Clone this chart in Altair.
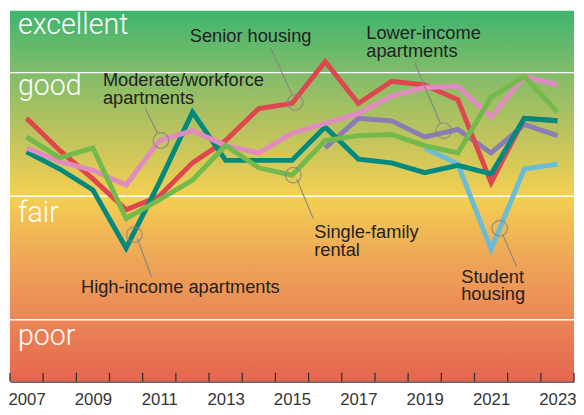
import altair as alt
import pandas as pd

# ---------------- data (rating scale: poor 0-1, fair 1-2, good 2-3, excellent 3-4) ----
years = list(range(2007, 2024))

senior_housing = [2.63, 2.37, 2.14, 1.89, 2.00, 2.27, 2.45, 2.71, 2.75, 3.09, 2.75, 2.93, 2.90, 2.78, 2.11, 2.63, 2.61]
high_income = [2.36, 2.22, 2.05, 1.58, 2.11, 2.68, 2.29, 2.29, 2.29, 2.56, 2.30, 2.27, 2.19, 2.25, 2.18, 2.63, 2.61]
single_family = [2.48, 2.31, 2.39, 1.82, 1.97, 2.13, 2.41, 2.23, 2.17, 2.45, 2.49, 2.50, 2.41, 2.35, 2.80, 2.97, 2.68]
moderate_workforce = [2.39, 2.28, 2.21, 2.09, 2.45, 2.53, 2.41, 2.35, 2.51, 2.59, 2.67, 2.81, 2.88, 2.89, 2.64, 2.97, 2.90]
lower_income = [None] * 9 + [2.39, 2.63, 2.61, 2.48, 2.54, 2.35, 2.58, 2.49]
student_housing = [None] * 12 + [2.39, 2.26, 1.57, 2.22, 2.26]

series_names = ["Student housing", "Lower-income apartments", "Senior housing",
                "High-income apartments", "Moderate/workforce apartments", "Single-family rental"]
series_values = [student_housing, lower_income, senior_housing,
                 high_income, moderate_workforce, single_family]
series_colors = ["#6bbcd6", "#8a7db5", "#df4750", "#00897f", "#e18cc0", "#73b94c"]

band_names = ["excellent", "good", "fair", "poor"]
band_label_y = [3.31, 2.82, 1.79, 0.80]
band_edges = [3, 2, 1]

tick_years = years[::2]

rows = []
for name, vals in zip(series_names, series_values):
    for yr, v in zip(years, vals):
        if v is not None:
            rows.append({"year": yr, "value": v, "series": name})
df = pd.DataFrame(rows)

W, H = 572, 376
XS = alt.Scale(domain=[2006.5, 2023.5], nice=False, zero=False)
YS = alt.Scale(domain=[0.5, 3.5], nice=False, zero=False)
FONT = "Liberation Sans"
X_AXIS = alt.Axis(
    values=tick_years, format="d", title=None, grid=False, ticks=False,
    domainColor="#333333", domainWidth=1.5, labelFont=FONT,
    labelFontSize=17, labelColor="#333333", labelPadding=10, labelFlush=False,
    labelOverlap=False,
)


def xq(field):
    return alt.X(field, type="quantitative", scale=XS, axis=X_AXIS)


def yq(field):
    return alt.Y(field, type="quantitative", scale=YS, axis=None)


# ---------------- background gradient ----------------
bg = alt.Chart(pd.DataFrame({"a": [0]})).mark_rect(
    color=alt.Gradient(
        gradient="linear", x1=0, x2=0, y1=0, y2=1,
        stops=[
            alt.GradientStop(offset=0.0, color="#3fb56e"),
            alt.GradientStop(offset=0.165, color="#80bc6a"),
            alt.GradientStop(offset=0.33, color="#bcc35e"),
            alt.GradientStop(offset=0.5, color="#f4d052"),
            alt.GradientStop(offset=0.67, color="#eea657"),
            alt.GradientStop(offset=0.835, color="#eb8657"),
            alt.GradientStop(offset=1.0, color="#e5654f"),
        ],
    )
).encode(x=alt.value(0), x2=alt.value(W), y=alt.value(0), y2=alt.value(H))

edges = alt.Chart(pd.DataFrame({"e": band_edges})).mark_rule(
    color="white", strokeWidth=1.5
).encode(y=yq("e"), x=alt.value(0), x2=alt.value(W))

band_text = alt.Chart(pd.DataFrame({"t": band_names, "y": band_label_y, "x": [2006.74] * 4})).mark_text(
    align="left", baseline="alphabetic", fontSize=29, font="Roboto", fontWeight=300, color="white"
).encode(x=xq("x"), y=yq("y"), text="t:N")

# ---------------- lines ----------------
line_layers = []
for name, col in zip(series_names, series_colors):
    line_layers.append(
        alt.Chart(df).transform_filter(alt.datum.series == name).mark_line(
            color=col, strokeWidth=5, strokeJoin="miter", strokeCap="butt"
        ).encode(x=xq("year"), y=yq("value"))
    )

# ---------------- annotations ----------------
ann_circles = pd.DataFrame({
    "x": [2015.10, 2011.05, 2010.25, 2015.04, 2019.57, 2021.26],
    "y": [2.76, 2.45, 1.69, 2.17, 2.53, 1.74],
})
circles = alt.Chart(ann_circles).mark_point(
    shape="circle", size=250, filled=False, color="#858585", strokeWidth=1.4
).encode(x=xq("x"), y=yq("y"))

ann_leaders = pd.DataFrame({
    "x": [2014.36, 2010.58, 2018.70, 2010.34, 2015.14, 2021.35],
    "y": [3.20, 2.71, 3.08, 1.66, 2.14, 1.69],
    "x2": [2015.00, 2010.95, 2019.47, 2010.76, 2015.64, 2021.77],
    "y2": [2.82, 2.51, 2.59, 1.35, 1.82, 1.43],
})
leaders = alt.Chart(ann_leaders).mark_rule(color="#858585", strokeWidth=1.1).encode(
    x=xq("x"), y=yq("y"), x2="x2:Q", y2="y2:Q",
)

ann_text = pd.DataFrame({
    "t": ["Senior housing", "Moderate/workforce\napartments", "Lower-income\napartments",
          "High-income apartments", "Single-family\nrental", "Student\nhousing"],
    "x": [2011.92, 2009.30, 2017.24, 2008.64, 2015.67, 2020.10],
    "y": [3.25, 2.89, 3.27, 1.22, 1.66, 1.30],
})
labels = alt.Chart(ann_text).mark_text(
    align="left", baseline="alphabetic", fontSize=18.5, font=FONT, color="#222222",
    lineBreak="\n", lineHeight=18
).encode(x=xq("x"), y=yq("y"), text="t:N")

# ---------------- inward ticks ----------------
tick_df = pd.DataFrame({"t": [y - 0.5 for y in years] + [years[-1] + 0.5]})
ticks = alt.Chart(tick_df).mark_rule(color="#333333", strokeWidth=1.3).encode(
    x=xq("t"), y=alt.value(H), y2=alt.value(H - 9)
)

chart = alt.layer(
    bg, edges, band_text, *line_layers, circles, leaders, labels, ticks
).properties(
    width=W, height=H,
    autosize=alt.AutoSizeParams(type="none"),
    padding={"left": 2, "top": 0, "right": 2, "bottom": 30},
).configure_view(stroke=None)

chart.save("out.html", embed_options={"renderer": "svg", "actions": False})
